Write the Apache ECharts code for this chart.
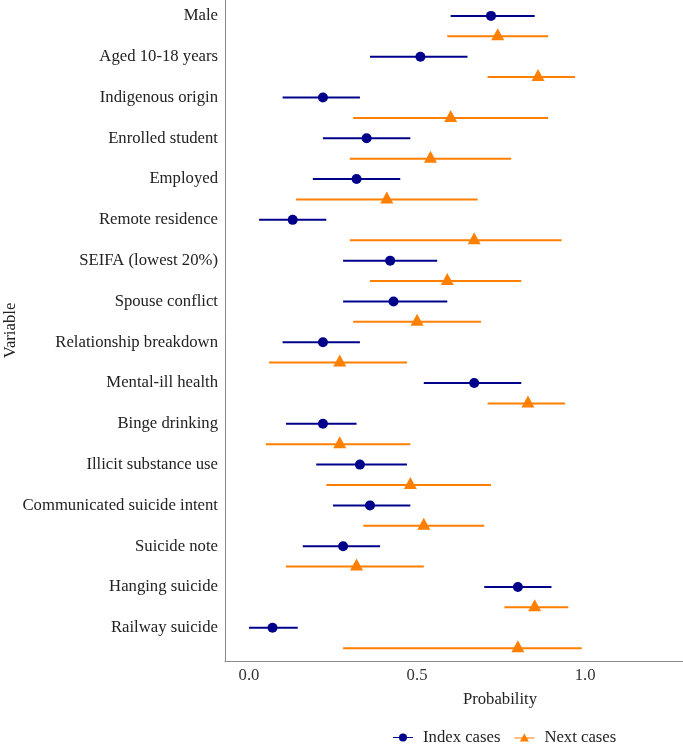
<!DOCTYPE html>
<html>
<head>
<meta charset="utf-8">
<script src="https://cdn.jsdelivr.net/npm/echarts@6/dist/echarts.min.js"></script>
<style>html,body{margin:0;padding:0;background:#fff;}#c{width:683px;height:745px;}</style>
</head>
<body>
<div id="c"></div>
<script>
var categories = ["Male","Aged 10-18 years","Indigenous origin","Enrolled student","Employed","Remote residence","SEIFA (lowest 20%)","Spouse conflict","Relationship breakdown","Mental-ill health","Binge drinking","Illicit substance use","Communicated suicide intent","Suicide note","Hanging suicide","Railway suicide"];
var indexMean = [0.72,0.51,0.22,0.35,0.32,0.13,0.42,0.43,0.22,0.67,0.22,0.33,0.36,0.28,0.80,0.07];
var indexLow  = [0.60,0.36,0.10,0.22,0.19,0.03,0.28,0.28,0.10,0.52,0.11,0.20,0.25,0.16,0.70,0.00];
var indexHigh = [0.85,0.65,0.33,0.48,0.45,0.23,0.56,0.59,0.33,0.81,0.32,0.47,0.48,0.39,0.90,0.145];
var nextMean  = [0.74,0.86,0.60,0.54,0.41,0.67,0.59,0.50,0.27,0.83,0.27,0.48,0.52,0.32,0.85,0.80];
var nextLow   = [0.59,0.71,0.31,0.30,0.14,0.30,0.36,0.31,0.06,0.71,0.05,0.23,0.34,0.11,0.76,0.28];
var nextHigh  = [0.89,0.97,0.89,0.78,0.68,0.93,0.81,0.69,0.47,0.94,0.48,0.72,0.70,0.52,0.95,0.99];
var xTicks = [0, 0.5, 1.0];

var BLUE = '#00008B', ORANGE = '#FF7F00';
var idxPts = indexMean.map(function(v,i){return [v, 2*i];});
var nxtPts = nextMean.map(function(v,i){return [v, 2*i+1];});
var idxBars = indexLow.map(function(v,i){return [v, indexHigh[i], 2*i];});
var nxtBars = nextLow.map(function(v,i){return [v, nextHigh[i], 2*i+1];});

function barRender(color){
  return function(params, api){
    var a = api.coord([api.value(0), api.value(2)]);
    var b = api.coord([api.value(1), api.value(2)]);
    return {type:'line', shape:{x1:a[0],y1:a[1],x2:b[0],y2:b[1]}, style:{stroke:color, lineWidth:2}};
  };
}
var labelCustom = categories.map(function(c,i){return 2*i;});
var font = 'Liberation Serif';
var FS = 16.7;
var chart = echarts.init(document.getElementById('c'));
chart.setOption({
  animation:false,
  textStyle:{fontFamily:font},
  grid:{left:225, top:0, width:550, height:661, outerBoundsMode:'none', containLabel:false},
  xAxis:{type:'value', min:-0.0714, max:1.565,
    name:'Probability', nameLocation:'middle', nameGap:30, nameMoveOverlap:false,
    nameTextStyle:{fontFamily:font, fontSize:FS, color:'#222'},
    axisLine:{show:true, onZero:false, lineStyle:{color:'#888', width:1}},
    axisTick:{show:false}, splitLine:{show:false},
    axisLabel:{customValues:xTicks, formatter:function(v){return v.toFixed(1);}, fontFamily:font, fontSize:FS, color:'#333', margin:6}
  },
  yAxis:{type:'value', inverse:true, min:-0.78, max:31.63,
    name:'Variable', nameLocation:'middle', nameGap:206, nameRotate:90, nameMoveOverlap:false,
    nameTextStyle:{fontFamily:font, fontSize:FS, color:'#222'},
    axisLine:{show:true, onZero:false, lineStyle:{color:'#888', width:1}},
    axisTick:{show:false}, splitLine:{show:false},
    axisLabel:{customValues:labelCustom, formatter:function(v){return categories[Math.round(v/2)];}, fontFamily:font, fontSize:FS, color:'#222', margin:7}
  },
  legend:{left:388, top:724, itemGap:14, itemWidth:20, itemHeight:8,
    textStyle:{fontFamily:font, fontSize:FS, color:'#222', padding:[0,0,0,5]},
    data:[
      {name:'Index cases', icon:'path://M0,7 L40,7 L40,9 L0,9 Z M20,0 A8,8 0 1 1 19.99,0 Z'},
      {name:'Next cases', icon:'path://M0,8 L40,8 L40,10 L0,10 Z M20,0 L29,16 L11,16 Z'}
    ]},
  series:[
    {name:'Index cases', type:'custom', renderItem:barRender(BLUE), itemStyle:{color:BLUE}, data:idxBars, encode:{x:[0,1], y:2}, z:2},
    {name:'Next cases', type:'custom', renderItem:barRender(ORANGE), itemStyle:{color:ORANGE}, data:nxtBars, encode:{x:[0,1], y:2}, z:2},
    {name:'Index cases', type:'scatter', symbol:'circle', symbolSize:10, itemStyle:{color:BLUE, opacity:1}, data:idxPts, z:3},
    {name:'Next cases', type:'scatter', symbol:'triangle', symbolSize:[13,12], symbolOffset:[0,-2], itemStyle:{color:ORANGE, opacity:1}, data:nxtPts, z:3}
  ]
});
</script>
</body>
</html>
